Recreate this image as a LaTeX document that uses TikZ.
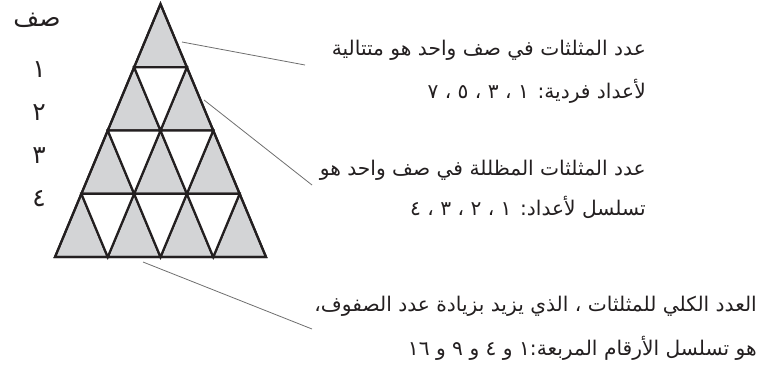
\documentclass[tikz,border=0pt]{standalone}
\usepackage{fontspec}
\TeXXeTstate=1
\newfontfamily\arabicfont[Script=Arabic]{DejaVu Sans}
\definecolor{shade}{RGB}{211,212,214}
\definecolor{leader}{RGB}{110,110,110}
\definecolor{ink}{RGB}{35,31,32}
\begin{document}
\begin{tikzpicture}[x=1pt,y=-1pt,
  tri/.style={draw=ink,line width=2.2pt,line join=miter},
  up/.style={tri,fill=shade},
  down/.style={tri,fill=white},
  leaderline/.style={draw=leader,line width=0.8pt},
  txt/.style={inner sep=0pt,anchor=base east,text=ink,font=\arabicfont\fontsize{20.2}{24}\selectfont},
  rowlab/.style={inner sep=0pt,anchor=center,text=ink,font=\arabicfont\fontsize{25}{28}\selectfont}]
\useasboundingbox (0,0) rectangle (760,376);
\def\H{63.25}\def\W{26.375}
% triangles
\foreach \r in {1,...,4}{
  \foreach \j in {1,...,\r}{
    \pgfmathsetmacro{\xa}{160.5-(\r-1)*\W+2*(\j-1)*\W}
    \pgfmathsetmacro{\ya}{4+(\r-1)*\H}
    \draw[up] (\xa,\ya) -- (\xa-\W,\ya+\H) -- (\xa+\W,\ya+\H) -- cycle;
  }
}
\foreach \r in {2,...,4}{
  \foreach \j in {1,...,\numexpr\r-1\relax}{
    \pgfmathsetmacro{\xa}{160.5-(\r-1)*\W+2*(\j-1)*\W}
    \pgfmathsetmacro{\ya}{4+(\r-1)*\H}
    \draw[down] (\xa,\ya) -- (\xa+2*\W,\ya) -- (\xa+\W,\ya+\H) -- cycle;
  }
}
\draw[tri] (160.5,4) -- (55,257) -- (266,257) -- cycle;
% row labels
\node[rowlab] (lrow) at (37,20) {\beginR صف\endR};
\node[rowlab] (l1) at (39,70) {١};
\node[rowlab] (l2) at (39,113) {٢};
\node[rowlab] (l3) at (39,156) {٣};
\node[rowlab] (l4) at (39,199) {٤};
% leader lines
\coordinate (a1) at (182,42);
\coordinate (b1) at (305,65);
\coordinate (a2) at (204,100);
\coordinate (b2) at (312,185);
\coordinate (a3) at (143,262);
\coordinate (b3) at (312,329);
\draw[leaderline] (a1) -- (b1);
\draw[leaderline] (a2) -- (b2);
\draw[leaderline] (a3) -- (b3);
% texts
\node[txt] (t11) at (646,55) {\beginR عدد المثلثات في صف واحد هو متتالية\endR};
\node[txt] (t12) at (646,98) {\beginR لأعداد فردية: ١ ، ٣ ، ٥ ، ٧\endR};
\node[txt] (t21) at (646,175) {\beginR عدد المثلثات المظللة في صف واحد هو\endR};
\node[txt] (t22) at (646,215) {\beginR تسلسل لأعداد: ١ ، ٢ ، ٣ ، ٤\endR};
\node[txt] (t31) at (757,311) {\beginR العدد الكلي للمثلثات ، الذي يزيد بزيادة عدد الصفوف،\endR};
\node[txt] (t32) at (757,355) {\beginR هو تسلسل الأرقام المربعة:١ و ٤ و ٩ و ١٦\endR};
\end{tikzpicture}
\end{document}
